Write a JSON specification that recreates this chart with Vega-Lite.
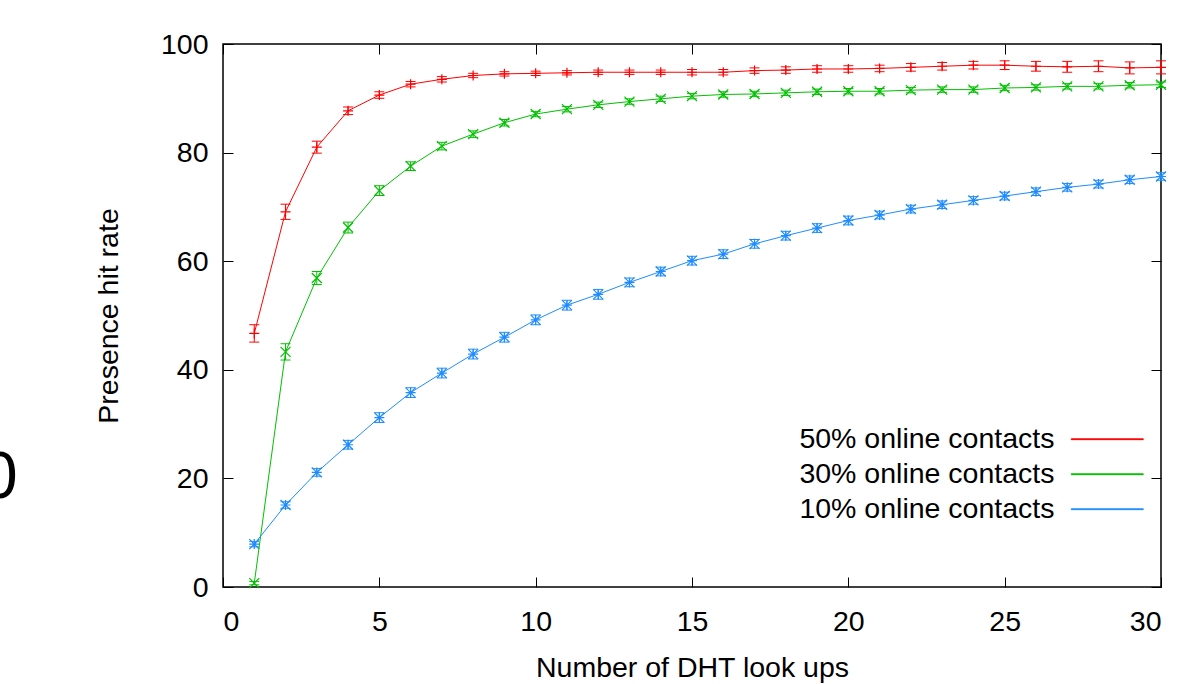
{
  "$schema": "https://vega.github.io/schema/vega-lite/v6.json",
  "width": 938,
  "height": 543,
  "autosize": {"type": "none"},
  "padding": {"left": 223, "top": 44, "right": 35, "bottom": 97},
  "config": {
    "font": "Liberation Sans",
    "view": {"stroke": "#000000", "strokeWidth": 1.5},
    "axis": {
      "grid": false,
      "domain": false,
      "tickColor": "#000000",
      "tickWidth": 1,
      "tickSize": -10,
      "labelFontSize": 28.5,
      "labelColor": "#000000",
      "titleFontSize": 28.5,
      "titleFontWeight": "normal",
      "titleColor": "#000000"
    }
  },
  "title": {
    "text": "0",
    "orient": "left",
    "angle": 0,
    "fontSize": 66,
    "fontWeight": "normal",
    "color": "#000000",
    "align": "right",
    "baseline": "middle",
    "anchor": "middle",
    "dy": 162,
    "offset": 40
  },
  "data": {
    "values": [
      {"s": "50% online contacts", "x": 1, "y": 46.7, "lo": 45.1, "hi": 48.3},
      {"s": "50% online contacts", "x": 2, "y": 69.1, "lo": 67.7, "hi": 70.5},
      {"s": "50% online contacts", "x": 3, "y": 81.0, "lo": 79.9, "hi": 82.1},
      {"s": "50% online contacts", "x": 4, "y": 87.7, "lo": 87.0, "hi": 88.4},
      {"s": "50% online contacts", "x": 5, "y": 90.6, "lo": 90.0, "hi": 91.2},
      {"s": "50% online contacts", "x": 6, "y": 92.6, "lo": 92.1, "hi": 93.1},
      {"s": "50% online contacts", "x": 7, "y": 93.5, "lo": 93.0, "hi": 94.0},
      {"s": "50% online contacts", "x": 8, "y": 94.2, "lo": 93.8, "hi": 94.6},
      {"s": "50% online contacts", "x": 9, "y": 94.5, "lo": 94.1, "hi": 94.9},
      {"s": "50% online contacts", "x": 10, "y": 94.6, "lo": 94.2, "hi": 95.0},
      {"s": "50% online contacts", "x": 11, "y": 94.7, "lo": 94.3, "hi": 95.1},
      {"s": "50% online contacts", "x": 12, "y": 94.8, "lo": 94.4, "hi": 95.2},
      {"s": "50% online contacts", "x": 13, "y": 94.8, "lo": 94.4, "hi": 95.2},
      {"s": "50% online contacts", "x": 14, "y": 94.8, "lo": 94.4, "hi": 95.2},
      {"s": "50% online contacts", "x": 15, "y": 94.8, "lo": 94.3, "hi": 95.3},
      {"s": "50% online contacts", "x": 16, "y": 94.8, "lo": 94.3, "hi": 95.3},
      {"s": "50% online contacts", "x": 17, "y": 95.1, "lo": 94.6, "hi": 95.6},
      {"s": "50% online contacts", "x": 18, "y": 95.2, "lo": 94.6, "hi": 95.8},
      {"s": "50% online contacts", "x": 19, "y": 95.4, "lo": 94.8, "hi": 96.0},
      {"s": "50% online contacts", "x": 20, "y": 95.4, "lo": 94.8, "hi": 96.0},
      {"s": "50% online contacts", "x": 21, "y": 95.5, "lo": 94.9, "hi": 96.1},
      {"s": "50% online contacts", "x": 22, "y": 95.7, "lo": 95.0, "hi": 96.4},
      {"s": "50% online contacts", "x": 23, "y": 95.9, "lo": 95.2, "hi": 96.6},
      {"s": "50% online contacts", "x": 24, "y": 96.1, "lo": 95.4, "hi": 96.8},
      {"s": "50% online contacts", "x": 25, "y": 96.1, "lo": 95.3, "hi": 96.9},
      {"s": "50% online contacts", "x": 26, "y": 95.9, "lo": 95.0, "hi": 96.8},
      {"s": "50% online contacts", "x": 27, "y": 95.8, "lo": 94.8, "hi": 96.8},
      {"s": "50% online contacts", "x": 28, "y": 95.9, "lo": 94.9, "hi": 96.9},
      {"s": "50% online contacts", "x": 29, "y": 95.6, "lo": 94.5, "hi": 96.7},
      {"s": "50% online contacts", "x": 30, "y": 95.7, "lo": 94.5, "hi": 96.9},
      {"s": "30% online contacts", "x": 1, "y": 0.7, "lo": 0.4, "hi": 1.0},
      {"s": "30% online contacts", "x": 2, "y": 43.3, "lo": 41.8, "hi": 44.8},
      {"s": "30% online contacts", "x": 3, "y": 56.9, "lo": 55.7, "hi": 58.1},
      {"s": "30% online contacts", "x": 4, "y": 66.2, "lo": 65.2, "hi": 67.2},
      {"s": "30% online contacts", "x": 5, "y": 73.0, "lo": 72.1, "hi": 73.9},
      {"s": "30% online contacts", "x": 6, "y": 77.5, "lo": 76.7, "hi": 78.3},
      {"s": "30% online contacts", "x": 7, "y": 81.2, "lo": 80.5, "hi": 81.9},
      {"s": "30% online contacts", "x": 8, "y": 83.4, "lo": 82.8, "hi": 84.0},
      {"s": "30% online contacts", "x": 9, "y": 85.5, "lo": 84.9, "hi": 86.1},
      {"s": "30% online contacts", "x": 10, "y": 87.1, "lo": 86.6, "hi": 87.6},
      {"s": "30% online contacts", "x": 11, "y": 88.0, "lo": 87.5, "hi": 88.5},
      {"s": "30% online contacts", "x": 12, "y": 88.8, "lo": 88.3, "hi": 89.3},
      {"s": "30% online contacts", "x": 13, "y": 89.4, "lo": 88.9, "hi": 89.9},
      {"s": "30% online contacts", "x": 14, "y": 89.9, "lo": 89.4, "hi": 90.4},
      {"s": "30% online contacts", "x": 15, "y": 90.4, "lo": 89.9, "hi": 90.9},
      {"s": "30% online contacts", "x": 16, "y": 90.7, "lo": 90.2, "hi": 91.2},
      {"s": "30% online contacts", "x": 17, "y": 90.8, "lo": 90.3, "hi": 91.3},
      {"s": "30% online contacts", "x": 18, "y": 91.0, "lo": 90.5, "hi": 91.5},
      {"s": "30% online contacts", "x": 19, "y": 91.2, "lo": 90.7, "hi": 91.7},
      {"s": "30% online contacts", "x": 20, "y": 91.3, "lo": 90.8, "hi": 91.8},
      {"s": "30% online contacts", "x": 21, "y": 91.3, "lo": 90.8, "hi": 91.8},
      {"s": "30% online contacts", "x": 22, "y": 91.5, "lo": 91.0, "hi": 92.0},
      {"s": "30% online contacts", "x": 23, "y": 91.6, "lo": 91.1, "hi": 92.1},
      {"s": "30% online contacts", "x": 24, "y": 91.6, "lo": 91.1, "hi": 92.1},
      {"s": "30% online contacts", "x": 25, "y": 91.9, "lo": 91.4, "hi": 92.4},
      {"s": "30% online contacts", "x": 26, "y": 92.0, "lo": 91.5, "hi": 92.5},
      {"s": "30% online contacts", "x": 27, "y": 92.2, "lo": 91.7, "hi": 92.7},
      {"s": "30% online contacts", "x": 28, "y": 92.2, "lo": 91.7, "hi": 92.7},
      {"s": "30% online contacts", "x": 29, "y": 92.4, "lo": 91.9, "hi": 92.9},
      {"s": "30% online contacts", "x": 30, "y": 92.5, "lo": 92.0, "hi": 93.0},
      {"s": "10% online contacts", "x": 1, "y": 7.9, "lo": 7.4, "hi": 8.4},
      {"s": "10% online contacts", "x": 2, "y": 15.1, "lo": 14.5, "hi": 15.7},
      {"s": "10% online contacts", "x": 3, "y": 21.1, "lo": 20.4, "hi": 21.8},
      {"s": "10% online contacts", "x": 4, "y": 26.2, "lo": 25.4, "hi": 27.0},
      {"s": "10% online contacts", "x": 5, "y": 31.2, "lo": 30.3, "hi": 32.1},
      {"s": "10% online contacts", "x": 6, "y": 35.8, "lo": 34.9, "hi": 36.7},
      {"s": "10% online contacts", "x": 7, "y": 39.4, "lo": 38.5, "hi": 40.3},
      {"s": "10% online contacts", "x": 8, "y": 42.9, "lo": 42.0, "hi": 43.8},
      {"s": "10% online contacts", "x": 9, "y": 46.0, "lo": 45.1, "hi": 46.9},
      {"s": "10% online contacts", "x": 10, "y": 49.2, "lo": 48.3, "hi": 50.1},
      {"s": "10% online contacts", "x": 11, "y": 51.9, "lo": 51.0, "hi": 52.8},
      {"s": "10% online contacts", "x": 12, "y": 53.9, "lo": 53.0, "hi": 54.8},
      {"s": "10% online contacts", "x": 13, "y": 56.1, "lo": 55.3, "hi": 56.9},
      {"s": "10% online contacts", "x": 14, "y": 58.1, "lo": 57.3, "hi": 58.9},
      {"s": "10% online contacts", "x": 15, "y": 60.1, "lo": 59.3, "hi": 60.9},
      {"s": "10% online contacts", "x": 16, "y": 61.3, "lo": 60.5, "hi": 62.1},
      {"s": "10% online contacts", "x": 17, "y": 63.2, "lo": 62.4, "hi": 64.0},
      {"s": "10% online contacts", "x": 18, "y": 64.7, "lo": 63.9, "hi": 65.5},
      {"s": "10% online contacts", "x": 19, "y": 66.1, "lo": 65.3, "hi": 66.9},
      {"s": "10% online contacts", "x": 20, "y": 67.5, "lo": 66.7, "hi": 68.3},
      {"s": "10% online contacts", "x": 21, "y": 68.5, "lo": 67.8, "hi": 69.2},
      {"s": "10% online contacts", "x": 22, "y": 69.6, "lo": 68.9, "hi": 70.3},
      {"s": "10% online contacts", "x": 23, "y": 70.4, "lo": 69.7, "hi": 71.1},
      {"s": "10% online contacts", "x": 24, "y": 71.2, "lo": 70.5, "hi": 71.9},
      {"s": "10% online contacts", "x": 25, "y": 72.0, "lo": 71.3, "hi": 72.7},
      {"s": "10% online contacts", "x": 26, "y": 72.8, "lo": 72.1, "hi": 73.5},
      {"s": "10% online contacts", "x": 27, "y": 73.6, "lo": 72.9, "hi": 74.3},
      {"s": "10% online contacts", "x": 28, "y": 74.2, "lo": 73.5, "hi": 74.9},
      {"s": "10% online contacts", "x": 29, "y": 75.0, "lo": 74.3, "hi": 75.7},
      {"s": "10% online contacts", "x": 30, "y": 75.6, "lo": 74.9, "hi": 76.3}
    ]
  },
  "layer": [
    {
      "mark": {"type": "point", "filled": false, "size": 100, "strokeWidth": 1.2, "opacity": 1},
      "encoding": {
        "x": {"field": "x", "type": "quantitative", "scale": {"domain": [0, 30], "nice": false, "zero": false}, "axis": null},
        "y": {"field": "y", "type": "quantitative", "scale": {"domain": [0, 100], "nice": false}, "axis": null},
        "color": {
          "field": "s", "type": "nominal",
          "scale": {"domain": ["50% online contacts", "30% online contacts", "10% online contacts"], "range": ["#ff0000", "#00c000", "#1e8cff"]},
          "legend": {
            "orient": "none",
            "legendX": 870,
            "legendY": 381,
            "title": null,
            "labelFontSize": 28.5,
            "labelColor": "#000000",
            "labelAlign": "right",
            "labelOffset": -67,
            "labelLimit": 0,
            "symbolType": "M-9,-0.1H9V0.1H-9Z",
            "symbolSize": 64,
            "symbolStrokeWidth": 1,
            "symbolOpacity": 1,
            "rowPadding": 6
          }
        },
        "shape": {
          "field": "s", "type": "nominal",
          "scale": {"range": ["M-1,0H1M0,-1V1M-1,-1L1,1M-1,1L1,-1", "M-1,-1L1,1M-1,1L1,-1", "M-1,0H1M0,-1V1"]},
          "legend": null
        }
      }
    },
    {
      "mark": {"type": "rule", "strokeWidth": 1},
      "encoding": {
        "x": {
          "field": "x", "type": "quantitative",
          "axis": {"orient": "bottom", "values": [0, 5, 10, 15, 20, 25, 30], "labelPadding": 30, "title": "Number of DHT look ups", "titlePadding": 18}
        },
        "y": {
          "field": "lo", "type": "quantitative",
          "axis": {"orient": "left", "values": [0, 20, 40, 60, 80, 100], "labelPadding": 25, "title": "Presence hit rate", "titlePadding": 37}
        },
        "y2": {"field": "hi"},
        "color": {"field": "s", "type": "nominal"}
      }
    },
    {
      "mark": {"type": "tick", "orient": "horizontal", "size": 10, "thickness": 1, "opacity": 1},
      "encoding": {
        "x": {"field": "x", "type": "quantitative", "axis": {"orient": "top", "values": [0, 5, 10, 15, 20, 25, 30], "labels": false, "title": null}},
        "y": {"field": "lo", "type": "quantitative", "axis": {"orient": "right", "values": [0, 20, 40, 60, 80, 100], "labels": false, "title": null}},
        "color": {"field": "s", "type": "nominal"}
      }
    },
    {
      "mark": {"type": "tick", "orient": "horizontal", "size": 10, "thickness": 1, "opacity": 1},
      "encoding": {
        "x": {"field": "x", "type": "quantitative", "axis": null},
        "y": {"field": "hi", "type": "quantitative", "axis": null},
        "color": {"field": "s", "type": "nominal"}
      }
    },
    {
      "mark": {"type": "line", "strokeWidth": 1},
      "encoding": {
        "x": {"field": "x", "type": "quantitative", "axis": null},
        "y": {"field": "y", "type": "quantitative", "axis": null},
        "color": {"field": "s", "type": "nominal"}
      }
    }
  ]
}
